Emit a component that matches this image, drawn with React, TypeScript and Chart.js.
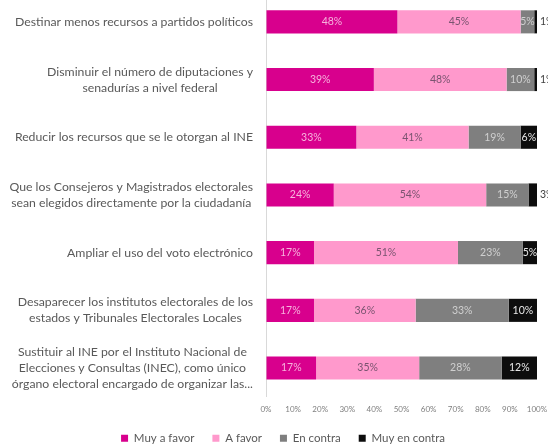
import React, { useEffect, useRef } from "react";
import { Chart, registerables } from "chart.js";

Chart.register(...registerables);

const categories: string[][] = [
  ["Destinar menos recursos a partidos políticos"],
  ["Disminuir el número de diputaciones y", "senadurías a nivel federal"],
  ["Reducir los recursos que se le otorgan al INE"],
  ["Que los Consejeros y Magistrados electorales", "sean elegidos directamente por la ciudadanía"],
  ["Ampliar el uso del voto electrónico"],
  ["Desaparecer los institutos electorales de los", "estados y Tribunales Electorales Locales"],
  ["Sustituir al INE por el Instituto Nacional de", "Elecciones y Consultas (INEC), como único", "órgano electoral encargado de organizar las..."],
];

const muyAFavor = [48, 39, 33, 24, 17, 17, 17];
const aFavor = [45, 48, 41, 54, 51, 36, 35];
const enContra = [5, 10, 19, 15, 23, 33, 28];
const muyEnContra = [1, 1, 6, 3, 5, 10, 12];

const seriesNames = ["Muy a favor", "A favor", "En contra", "Muy en contra"];
const seriesValues = [muyAFavor, aFavor, enContra, muyEnContra];
const seriesColors = ["#D8008D", "#FF99CC", "#7F7F7F", "#0D0D0D"];
const labelColors = ["#F6B3DD", "#7A5470", "#D0D0D0", "#E8E8E8"];

const FONT = "Lato, 'Open Sans', sans-serif";

const totals = categories.map((_, i) => seriesValues.reduce((s, arr) => s + arr[i], 0));

const yLabelPlugin = {
  id: "yLabelPlugin",
  afterDraw(chart: any) {
    const ctx = chart.ctx;
    const y = chart.scales.y;
    ctx.save();
    ctx.font = `12.25px ${FONT}`;
    ctx.fillStyle = "#595959";
    ctx.textBaseline = "middle";
    ctx.textAlign = "center";
    const right = chart.chartArea.left - 13;
    categories.forEach((lines, i) => {
      const cy = y.getPixelForValue(i);
      const w = Math.max(...lines.map((l) => ctx.measureText(l).width));
      const cx = right - w / 2;
      const lh = 16;
      lines.forEach((l, j) => ctx.fillText(l, cx, cy + (j - (lines.length - 1) / 2) * lh));
    });
    ctx.restore();
  },
};

const dataLabelPlugin = {
  id: "dataLabelPlugin",
  afterDatasetsDraw(chart: any) {
    const ctx = chart.ctx;
    ctx.save();
    ctx.font = `10.5px ${FONT}`;
    ctx.textBaseline = "middle";
    chart.data.datasets.forEach((_: any, di: number) => {
      const meta = chart.getDatasetMeta(di);
      meta.data.forEach((bar: any, i: number) => {
        const raw = seriesValues[di][i];
        const { x, y, base } = bar.getProps(["x", "y", "base"], true);
        const label = raw + "%";
        if (raw < 4) {
          ctx.textAlign = "left";
          ctx.fillStyle = "#404040";
          ctx.fillText(label, x + 3, y);
        } else {
          ctx.textAlign = "center";
          ctx.fillStyle = labelColors[di];
          ctx.fillText(label, (x + base) / 2, y);
        }
      });
    });
    ctx.restore();
  },
};

export default function App() {
  const ref = useRef<HTMLCanvasElement>(null);
  useEffect(() => {
    if (!ref.current) return;
    const chart = new Chart(ref.current, {
      type: "bar",
      data: {
        labels: categories.map((c) => c.join(" ")),
        datasets: seriesNames.map((name, di) => ({
          label: name,
          data: seriesValues[di].map((v, i) => (v / totals[i]) * 100),
          backgroundColor: seriesColors[di],
          borderWidth: 0,
          barPercentage: 0.8,
          categoryPercentage: 0.5,
        })),
      },
      options: {
        indexAxis: "y",
        animation: false,
        responsive: true,
        maintainAspectRatio: false,
        layout: { padding: { left: 18, top: 13, right: 0, bottom: 0 } },
        plugins: {
          tooltip: { enabled: false },
          legend: {
            position: "bottom",
            labels: {
              boxWidth: 7,
              boxHeight: 7,
              padding: 18,
              color: "#595959",
              font: { family: FONT, size: 11.5 },
            },
          },
        },
        scales: {
          x: {
            stacked: true,
            min: 0,
            max: 100,
            grid: {
              display: true,
              drawOnChartArea: false,
              drawTicks: true,
              tickLength: 8,
              color: "rgba(0,0,0,0)",
            },
            border: { display: false },
            ticks: {
              stepSize: 10,
              padding: 0,
              color: "#7F7F7F",
              font: { family: FONT, size: 8 },
              callback: (v: any) => v + "%",
            },
          },
          y: {
            stacked: true,
            offset: true,
            grid: { display: false, drawTicks: false },
            border: { display: true, color: "#D9D9D9" },
            ticks: { display: false },
            afterFit: (s: any) => {
              s.width = 248;
            },
          },
          y2: {
            position: "right",
            type: "category",
            grid: { display: false, drawTicks: false },
            border: { display: false },
            ticks: { display: false },
            afterFit: (s: any) => {
              s.width = 11;
            },
          },
        },
      },
      plugins: [yLabelPlugin, dataLabelPlugin],
    } as any);
    return () => chart.destroy();
  }, []);
  return (
    <div style={{ position: "fixed", left: 0, top: 0, width: 548, height: 445, overflow: "hidden", background: "#fff" }}>
      <div style={{ position: "absolute", left: 0, top: -20, width: 548, height: 474 }}>
        <canvas ref={ref} />
      </div>
    </div>
  );
}
